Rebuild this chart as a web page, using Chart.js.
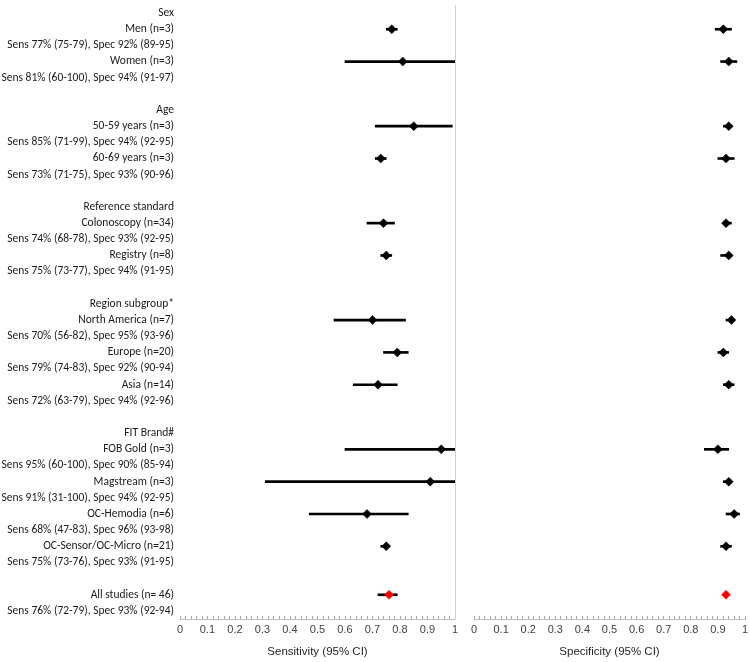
<!DOCTYPE html>
<html>
<head>
<meta charset="utf-8">
<script src="https://cdn.jsdelivr.net/npm/chart.js@4.4.1/dist/chart.umd.min.js"></script>
<style>
  html, body { margin: 0; padding: 0; background: #fff; }
  #wrap { position: relative; width: 750px; height: 662px; }
  #sensChart { position: absolute; left: 0; top: 0; }
  #specChart { position: absolute; left: 456px; top: 0; }
</style>
</head>
<body>
<div id="wrap">
  <canvas id="sensChart" width="460" height="662"></canvas>
  <canvas id="specChart" width="294" height="662"></canvas>
</div>
<script>
  // Data
  const groupTitles = ['Sex', 'Age', 'Reference standard', 'Region subgroup*', 'FIT Brand#', ''];
  const subgroups = ['Men (n=3)', 'Women (n=3)', '50-59 years (n=3)', '60-69 years (n=3)',
    'Colonoscopy (n=34)', 'Registry (n=8)', 'North America (n=7)', 'Europe (n=20)', 'Asia (n=14)',
    'FOB Gold (n=3)', 'Magstream (n=3)', 'OC-Hemodia (n=6)', 'OC-Sensor/OC-Micro (n=21)', 'All studies (n= 46)'];
  const subgroupGroup = [0, 0, 1, 1, 2, 2, 3, 3, 3, 4, 4, 4, 4, 5];
  const sens = [77, 81, 85, 73, 74, 75, 70, 79, 72, 95, 91, 68, 75, 76];
  const sensLow = [75, 60, 71, 71, 68, 73, 56, 74, 63, 60, 31, 47, 73, 72];
  const sensHigh = [79, 100, 99, 75, 78, 77, 82, 83, 79, 100, 100, 83, 76, 79];
  const spec = [92, 94, 94, 93, 93, 94, 95, 92, 94, 90, 94, 96, 93, 93];
  const specLow = [89, 91, 92, 90, 92, 91, 93, 90, 92, 85, 92, 93, 91, 92];
  const specHigh = [95, 97, 95, 96, 95, 95, 96, 94, 96, 94, 95, 98, 95, 94];
  const pooledIndex = subgroups.length - 1;

  // Build the row labels: group title, subgroup name, summary line, blank between groups
  const rows = [];
  const markRow = [];
  groupTitles.forEach((title, g) => {
    if (g > 0) rows.push('');
    if (title) rows.push(title);
    subgroups.forEach((name, i) => {
      if (subgroupGroup[i] !== g) return;
      markRow[i] = rows.length;
      rows.push(name);
      rows.push('Sens ' + sens[i] + '% (' + sensLow[i] + '-' + sensHigh[i] + '), Spec ' +
        spec[i] + '% (' + specLow[i] + '-' + specHigh[i] + ')');
    });
  });

  const labelFont = { family: 'Carlito, Calibri, Roboto, sans-serif', size: 11.5 };
  const axisFont = { family: '"Liberation Sans", Arial, sans-serif', size: 11 };
  const titleFont = { family: '"Liberation Sans", Arial, sans-serif', size: 11.5 };

  function makeForest(canvasId, values, lows, highs, axisTitle, showLabels) {
    const points = rows.map(() => null);
    const bars = rows.map(() => null);
    values.forEach((v, i) => {
      points[markRow[i]] = v / 100;
      bars[markRow[i]] = [lows[i] / 100, highs[i] / 100];
    });
    const colors = rows.map((r, k) => k === markRow[pooledIndex] ? '#ff0000' : '#000000');

    const scales = {
      x: {
        type: 'linear',
        min: 0,
        max: 1,
        ticks: {
          stepSize: 0.02,
          autoSkip: false,
          maxRotation: 0,
          padding: 7,
          color: '#404040',
          font: axisFont,
          callback: function(value) {
            const v = Math.round(value * 100);
            return v % 10 === 0 ? String(v / 100) : '';
          }
        },
        grid: { drawOnChartArea: false, tickLength: -3, tickColor: '#a6a6a6' },
        border: { color: '#bfbfbf' },
        title: { display: true, text: axisTitle, color: '#262626', font: titleFont, padding: { top: 2, bottom: 3 } },
        afterFit: function(scale) {
          // let the layout padding alone decide the panel edges
          scale.paddingLeft = 0;
          scale.paddingRight = 0;
        }
      },
      y: {
        type: 'category',
        position: 'left',
        offset: true,
        display: showLabels,
        grid: { display: false, drawTicks: false },
        border: { display: false },
        ticks: { autoSkip: false, padding: 6, color: '#1a1a1a', font: labelFont },
        afterFit: function(scale) {
          scale.width = showLabels ? 180 : 0;
          scale.paddingTop = 0;
          scale.paddingBottom = 0;
        }
      }
    };
    if (showLabels) {
      // right edge line of the sensitivity panel
      scales.y2 = {
        type: 'category',
        position: 'right',
        grid: { display: false, drawTicks: false },
        ticks: { display: false },
        border: { display: true, color: '#d0d0d0', width: 1 },
        afterFit: function(scale) {
          scale.width = 0;
          scale.paddingTop = 0;
          scale.paddingBottom = 0;
        }
      };
    }

    return new Chart(document.getElementById(canvasId), {
      type: 'bar',
      data: {
        labels: rows,
        datasets: [
          {
            type: 'line',
            indexAxis: 'y',
            data: points,
            showLine: false,
            pointStyle: 'rectRot',
            pointRadius: 4.5,
            pointBackgroundColor: colors,
            pointBorderColor: colors,
            pointBorderWidth: 0.5,
            xAxisID: 'x',
            yAxisID: 'y'
          },
          {
            type: 'bar',
            indexAxis: 'y',
            data: bars,
            backgroundColor: '#000000',
            borderWidth: 0,
            barThickness: 2,
            xAxisID: 'x',
            yAxisID: 'y'
          }
        ]
      },
      options: {
        indexAxis: 'y',
        responsive: false,
        animation: false,
        layout: { padding: showLabels ? { top: 5, right: 4, left: 0, bottom: 0 } : { top: 5, right: 3, left: 18, bottom: 0 } },
        plugins: { legend: { display: false }, tooltip: { enabled: false } },
        scales: scales
      }
    });
  }

  makeForest('sensChart', sens, sensLow, sensHigh, 'Sensitivity (95% CI)', true);
  makeForest('specChart', spec, specLow, specHigh, 'Specificity (95% CI)', false);
</script>
</body>
</html>
